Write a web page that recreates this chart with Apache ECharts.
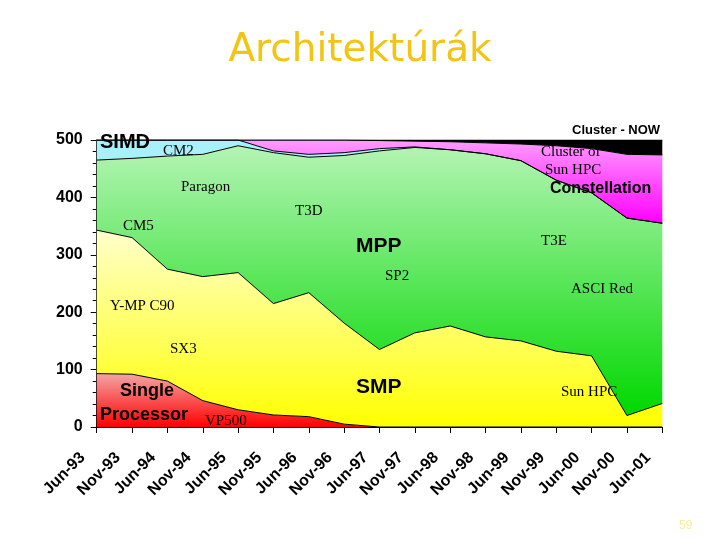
<!DOCTYPE html>
<html>
<head>
<meta charset="utf-8">
<script src="https://cdn.jsdelivr.net/npm/echarts@6/dist/echarts.min.js"></script>
<style>
html,body{margin:0;padding:0;background:#fff;}
#c{width:720px;height:540px;}
</style>
</head>
<body>
<div id="c"></div>
<script>
const categories = ['Jun-93','Nov-93','Jun-94','Nov-94','Jun-95','Nov-95','Jun-96','Nov-96','Jun-97','Nov-97','Jun-98','Nov-98','Jun-99','Nov-99','Jun-00','Nov-00','Jun-01'];
const singleProcessor = [93, 92, 80, 46, 30, 21, 18, 5, 0, 0, 0, 0, 0, 0, 0, 0, 0];
const smp = [250, 238, 195, 216, 239, 194, 216, 176, 135, 164, 176, 157, 150, 132, 124, 20, 41];
const mpp = [122, 138, 197, 213, 221, 263, 236, 292, 346, 323, 307, 319, 314, 298, 284, 344, 314];
const simd = [35, 32, 28, 25, 10, 3, 5, 5, 4, 1, 0, 0, 0, 0, 0, 0, 0];
const constellation = [0, 0, 0, 0, 0, 19, 25, 22, 14, 10, 14, 19, 29, 60, 77, 111, 119];
const cluster = [0, 0, 0, 0, 0, 0, 0, 0, 1, 2, 3, 5, 7, 10, 15, 25, 26];
const yTicks = [0, 100, 200, 300, 400, 500];

function grad(top, bottom) {
  return {type:'linear', x:0, y:0, x2:0, y2:1, colorStops:[{offset:0,color:top},{offset:1,color:bottom}]};
}
function areaSeries(name, data, fill) {
  return {
    name, type:'line', stack:'all', data, symbol:'none', showSymbol:false,
    lineStyle:{color:'#000', width:1}, areaStyle:{color:fill, opacity:1},
    emphasis:{disabled:true}, animation:false, z:2
  };
}
const chart = echarts.init(document.getElementById('c'), null, {renderer:'canvas'});
const serif = "'Liberation Serif', 'DejaVu Serif', serif";
const sans = "'Liberation Sans', Arial, sans-serif";
function t(x, y, text, font, size, weight, extra) {
  return {type:'text', left:x, top:y, z:10, style:Object.assign({text, fontFamily:font, fontSize:size, fontWeight:weight||'normal', fill:'#000'}, extra||{})};
}
chart.setOption({
  animation:false,
  backgroundColor:'#fff',
  grid:{left:96.7, right:57.7, top:140, bottom:113, containLabel:false},
  xAxis:{
    type:'category', data:categories, boundaryGap:false,
    axisLine:{lineStyle:{color:'#000', width:1}},
    axisTick:{show:true, length:6, lineStyle:{color:'#000'}, alignWithLabel:true},
    axisLabel:{rotate:45, interval:0, margin:14, color:'#000', fontFamily:sans, fontWeight:'bold', fontSize:16, padding:[0,20,0,0]},
    splitLine:{show:false}
  },
  yAxis:{
    type:'value', min:yTicks[0], max:yTicks[yTicks.length-1], interval:100,
    axisLine:{show:true, lineStyle:{color:'#000', width:1}},
    axisTick:{show:true, length:6, lineStyle:{color:'#000'}},
    minorTick:{show:true, splitNumber:5, length:4, lineStyle:{color:'#000'}},
    axisLabel:{color:'#000', fontFamily:sans, fontWeight:'bold', fontSize:16, margin:14},
    splitLine:{show:false}
  },
  series:[
    areaSeries('Single Processor', singleProcessor, grad('#f4a4a4', '#ff0000')),
    areaSeries('SMP', smp, grad('#ffffcc', '#ffff00')),
    areaSeries('MPP', mpp, grad('#b4f4b4', '#00d800')),
    areaSeries('SIMD', simd, '#a8f0fa'),
    areaSeries('Constellation', constellation, grad('#ff9cff', '#ff00ff')),
    areaSeries('Cluster - NOW', cluster, '#000000')
  ],
  graphic:[
    {type:'text', left:'center', top:31, z:10, style:{text:'Architektúrák', fontFamily:"'DejaVu Sans', sans-serif", fontSize:39, fill:'#f2c414'}},
    t(100, 132, 'SIMD', sans, 20, 'bold'),
    t(163, 144, 'CM2', serif, 15),
    t(181, 180, 'Paragon', serif, 15),
    t(295, 204, 'T3D', serif, 15),
    t(123, 219, 'CM5', serif, 15),
    t(356, 236, 'MPP', sans, 21, 'bold'),
    t(385, 269, 'SP2', serif, 15),
    t(541, 234, 'T3E', serif, 15),
    t(571, 282, 'ASCI Red', serif, 15),
    t(110, 299, 'Y-MP C90', serif, 15),
    t(170, 342, 'SX3', serif, 15),
    t(356, 377, 'SMP', sans, 21, 'bold'),
    t(120, 382, 'Single', sans, 18, 'bold'),
    t(100, 406, 'Processor', sans, 18, 'bold'),
    t(205, 414, 'VP500', serif, 15),
    t(561, 385, 'Sun HPC', serif, 15),
    t(572, 124, 'Cluster - NOW', sans, 13, 'bold'),
    t(541, 145, 'Cluster of', serif, 15),
    t(545, 163, 'Sun HPC', serif, 15),
    t(550, 181, 'Constellation', sans, 16, 'bold'),
    {type:'text', left:679, top:520, z:10, style:{text:'59', fontFamily:sans, fontSize:12, fill:'#f6ee9a'}}
  ]
});
</script>
</body>
</html>
